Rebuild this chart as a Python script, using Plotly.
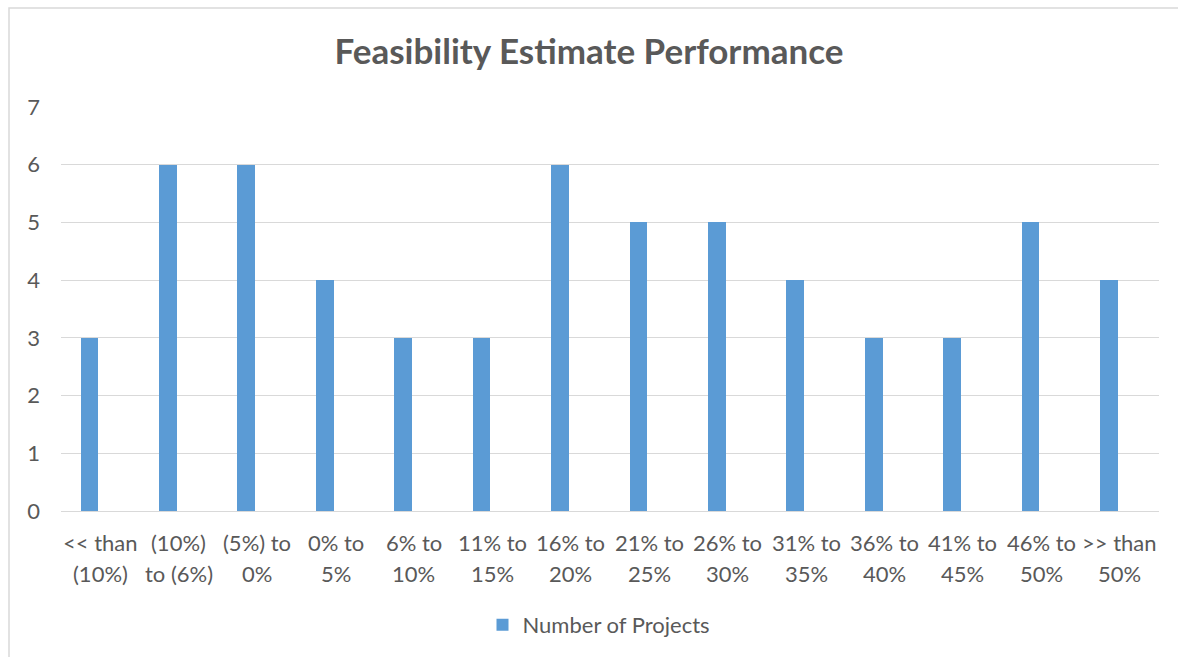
import plotly.graph_objects as go

# Estimate-vs-actual bins and project counts
categories = [
    "<< than\n(10%)", "(10%)\nto (6%)", "(5%) to\n0%", "0% to\n5%", "6% to\n10%",
    "11% to\n15%", "16% to\n20%", "21% to\n25%", "26% to\n30%", "31% to\n35%",
    "36% to\n40%", "41% to\n45%", "46% to\n50%", ">> than\n50%",
]
projects = [3, 6, 6, 4, 3, 3, 6, 5, 5, 4, 3, 3, 5, 4]
y_ticks = [0, 1, 2, 3, 4, 5, 6, 7]

series_name = "Number of Projects"
title_text = "Feasibility Estimate Performance"

FONT = "Lato, 'Open Sans', sans-serif"
TEXT_GREY = "#595959"
GRID = "#d9d9d9"
BAR = "#5b9bd5"
LABEL_SIZE = 22

W, H = 1178, 657
L, R, T, B = 61, 19, 107, 146
plot_w = W - L - R
plot_h = H - T - B

fig = go.Figure()
fig.add_trace(go.Bar(
    x=categories,
    y=projects,
    name=series_name,
    marker=dict(color=BAR, line=dict(width=0)),
    width=0.225,
    offset=-0.25,
    showlegend=True,
))

# Two-line category labels under the axis
annotations = []
for cat in categories:
    top, bottom = cat.split("\n")
    for line, shift in ((top, -31), (bottom, -62)):
        annotations.append(dict(
            x=cat, xref="x", y=0, yref="paper", yanchor="middle",
            yshift=shift, text=line, showarrow=False,
            font=dict(family=FONT, size=LABEL_SIZE, color=TEXT_GREY),
        ))

# Chart-area frame
def px_x(p):
    return (p - L) / plot_w

def px_y(p):
    return (H - B - p) / plot_h

shapes = [dict(
    type="rect", xref="paper", yref="paper",
    x0=px_x(9), x1=px_x(1190), y0=px_y(670), y1=px_y(8),
    line=dict(color=GRID, width=1.5), fillcolor="rgba(0,0,0,0)", layer="below",
)]

fig.update_layout(
    width=W, height=H,
    margin=dict(l=L, r=R, t=T, b=B, autoexpand=False),
    paper_bgcolor="white", plot_bgcolor="white",
    title=dict(
        text=f"<b>{title_text}</b>", x=0.5, xref="container", xanchor="center",
        y=1 - 52 / H, yanchor="middle",
        font=dict(family=FONT, size=35, color=TEXT_GREY),
    ),
    font=dict(family=FONT, size=LABEL_SIZE, color=TEXT_GREY),
    xaxis=dict(
        type="category", categoryorder="array", categoryarray=categories,
        range=[-0.5, len(categories) - 0.5],
        showticklabels=False, showgrid=False, zeroline=False, showline=False,
        ticks="",
    ),
    yaxis=dict(
        range=[0, 7], tickvals=y_ticks, showgrid=True, gridcolor=GRID,
        gridwidth=1.3, zeroline=True, zerolinecolor=GRID, zerolinewidth=1.3,
        showline=False, ticks="", ticklabelstandoff=20,
        tickfont=dict(family=FONT, size=LABEL_SIZE, color=TEXT_GREY),
    ),
    legend=dict(
        orientation="h", x=px_x(599), xanchor="center", xref="paper",
        y=px_y(625), yanchor="middle", itemwidth=30,
        font=dict(family=FONT, size=LABEL_SIZE, color=TEXT_GREY),
        bgcolor="rgba(0,0,0,0)",
    ),
    annotations=annotations,
    shapes=shapes,
    bargap=0,
)

fig.write_html("out.html")
